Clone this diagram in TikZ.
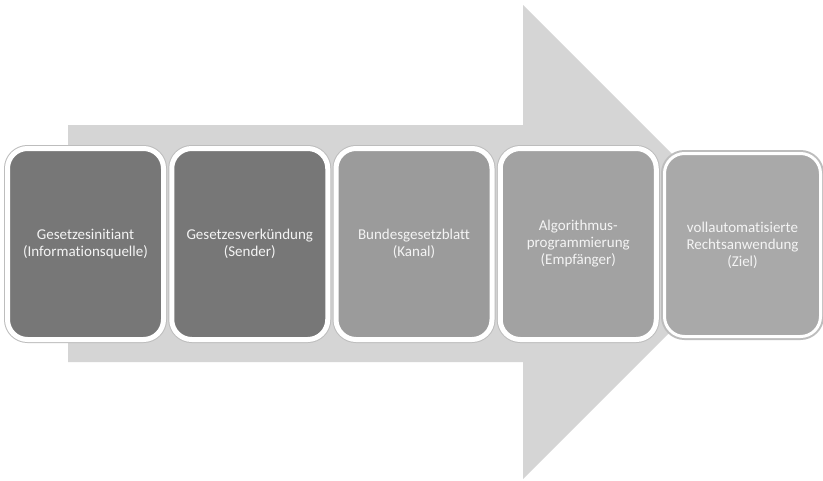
\documentclass[tikz,border=0pt]{standalone}
\usepackage{fontspec}
\setmainfont{Carlito}[Ligatures=NoCommon]
\definecolor{arrowgrey}{HTML}{D5D5D5}
\definecolor{darkbox}{HTML}{777777}
\definecolor{midbox}{HTML}{9B9B9B}
\definecolor{lightbox}{HTML}{A2A2A2}
\definecolor{palebox}{HTML}{A9A9A9}
\definecolor{txt}{HTML}{F4F4F4}
\definecolor{edgegrey}{HTML}{BDBDBD}
\tikzset{
  stagebox/.style={draw=white, line width=5pt, rounded corners=20pt,
    preaction={draw=edgegrey, line width=7pt},
    minimum width=156pt, minimum height=191pt, inner sep=0pt,
    text=txt, align=center, text width=150pt,
    font=\fontsize{15}{17}\selectfont},
}
\begin{document}
\begin{tikzpicture}[x=1pt,y=-1pt]
\useasboundingbox (0,0) rectangle (823,480);
\fill[white] (0,0) rectangle (823,480);
\fill[arrowgrey] (68,125) -- (523,125) -- (523,5) -- (760,242) -- (523,479) -- (523,362) -- (68,362) -- cycle;
\node[stagebox, fill=darkbox] (b1) at (85.5,244) {Gesetzesinitiant\\(Informationsquelle)};
\node[stagebox, fill=darkbox] (b2) at (249.75,244) {Gesetzesverkündung\\(Sender)};
\node[stagebox, fill=midbox] (b3) at (414,244) {Bundesgesetzblatt\\(Kanal)};
\node[stagebox, fill=lightbox] (b4) at (578.25,244) {Algorithmus-\\programmierung\\(Empfänger)};
\node[stagebox, fill=palebox, line width=3pt, preaction={draw=edgegrey, line width=5pt}, minimum width=156pt, minimum height=183pt] (b5) at (742.5,245) {vollautomatisierte\\Rechtsanwendung\\(Ziel)};
\end{tikzpicture}
\end{document}
